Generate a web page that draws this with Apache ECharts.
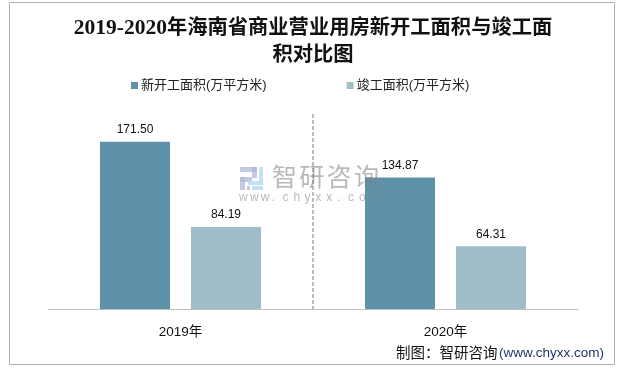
<!DOCTYPE html>
<html><head><meta charset="utf-8">
<script src="https://cdn.jsdelivr.net/npm/echarts@6/dist/echarts.min.js"></script>
<style>html,body{margin:0;padding:0;background:#fff}#c{width:619px;height:369px}</style></head>
<body><div id="c"></div>
<script>
const categories = ['2019年','2020年'];
const newStart = [171.50,134.87];
const completed = [84.19,64.31];
const seriesNames = ['新开工面积(万平方米)','竣工面积(万平方米)'];
const chart = echarts.init(document.getElementById('c'));
const font = '"Liberation Sans","Noto Sans CJK SC",sans-serif';
const serif = '"Liberation Serif","Noto Sans CJK SC",serif';
const lbl = {show:true,position:'top',distance:6,color:'#111',fontSize:12,fontFamily:font,formatter:p=>p.value.toFixed(2)};
const wmGrey = 'rgba(125,125,125,0.55)';
const wm = [];
[...'智研咨询'].forEach((ch,i)=>wm.push({type:'text',left:272+i*27.3,top:164,z:10,silent:true,style:{text:ch,font:'25px "Noto Sans CJK SC"',fill:wmGrey}}));
[...'www.chyxx.com'].forEach((ch,i)=>wm.push({type:'text',left:239+i*10.9,top:192,z:10,silent:true,style:{text:ch,font:'12px "Liberation Sans"',fill:wmGrey}}));
[[240,167,17,5],[252,167,5,11],[240,177,12,5],[240,177,5,13],[247,186,3,4]].forEach(r=>wm.push({type:'rect',z:10,silent:true,shape:{x:r[0],y:r[1],width:r[2],height:r[3]},style:{fill:'rgba(175,185,215,0.75)'}}));
[[259,167,4,15],[248,181,15,4],[252,186,11,4]].forEach(r=>wm.push({type:'rect',z:10,silent:true,shape:{x:r[0],y:r[1],width:r[2],height:r[3]},style:{fill:'rgba(175,215,240,0.75)'}}));
chart.setOption({
  animation:false,
  backgroundColor:'#fff',
  title:{text:'{d|2019-2020}年海南省商业营业用房新开工面积与竣工面\n积对比图',left:313,top:15,padding:0,textAlign:'center',
    textStyle:{fontFamily:serif,fontWeight:'bold',fontSize:20.3,lineHeight:27,color:'#111',
      rich:{d:{fontFamily:serif,fontWeight:'bold',fontSize:21.5,lineHeight:27,color:'#111'}}}},
  legend:{top:74,left:126,itemWidth:7,itemHeight:7,itemGap:80,icon:'rect',
    textStyle:{fontFamily:font,fontSize:13,color:'#222',padding:[0,0,0,-2]}},
  grid:{left:48,right:41,top:114,bottom:60},
  xAxis:{type:'category',data:categories,
    axisLine:{lineStyle:{color:'#bfbfbf',width:1}},axisTick:{show:false},
    axisLabel:{color:'#111',fontSize:13.5,fontFamily:font,margin:17},
    splitLine:{show:true,showMinLine:false,showMaxLine:false,lineStyle:{color:'#a6a6a6',type:[4,2],width:1.5}}},
  yAxis:{type:'value',min:0,max:200,show:false,splitLine:{show:false}},
  series:[
    {name:seriesNames[0],type:'bar',data:newStart,barWidth:70,barGap:'30%',itemStyle:{color:'#5f92a9'},label:lbl},
    {name:seriesNames[1],type:'bar',data:completed,barWidth:70,itemStyle:{color:'#a0bdca'},label:lbl}
  ],
  graphic:[
    {type:'rect',silent:true,shape:{x:9.5,y:2.5,width:605,height:362},style:{fill:'none',stroke:'#b0b0b0',lineWidth:1}},
    ...wm,
    {type:'text',left:396,top:345,z:10,style:{text:'制图：智研咨询',font:'14.5px "Noto Sans CJK SC"',fill:'#111'}},
    {type:'text',left:499,top:346,z:10,style:{text:'(www.chyxx.com)',font:'13.5px "Liberation Sans"',fill:'#1f3864'}}
  ]
});
</script></body></html>
